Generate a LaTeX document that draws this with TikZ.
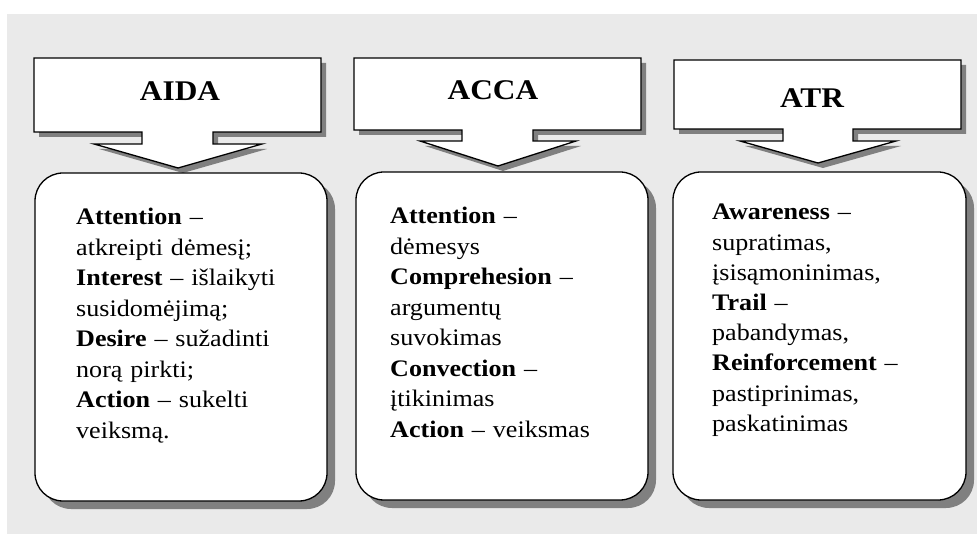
\documentclass[tikz,border=0pt]{standalone}
\usepackage{fontspec}
\setmainfont{Liberation Serif}[FakeStretch=1.1]
\usetikzlibrary{shadows}
\definecolor{panel}{RGB}{234,234,234}
\definecolor{shade}{RGB}{128,128,128}
\begin{document}
\begin{tikzpicture}[x=1pt,y=-1pt,
  shadowed/.style={drop shadow={shadow xshift=#1, shadow yshift=-#1, fill=shade, opacity=1}},
  header/.style={draw=black, fill=white, line width=1.3pt, line join=miter, shadowed=5pt},
  panelbox/.style={draw=black, fill=white, line width=1.3pt, rounded corners=28pt, shadowed=8pt, inner sep=0pt},
  title/.style={anchor=base, font=\bfseries\fontsize{28.5}{32}\selectfont, inner sep=0pt},
  body/.style={anchor=base west, text width=250pt, align=left, inner sep=0pt, font=\fontsize{23.7}{30.5}\selectfont}]
\useasboundingbox (0,0) rectangle (977,534);
\fill[white] (0,0) rectangle (977,534);
\fill[panel] (7,14) rectangle (977,534);

% header callouts pointing down
\draw[header] (34,58) -- (321,58) -- (321,132) -- (213,132) -- (213,144) -- (262,144)
  -- (178,168) -- (94,144) -- (142,144) -- (142,132) -- (34,132) -- cycle;
\draw[header] (354,58) -- (641,58) -- (641,130) -- (533,130) -- (533,141) -- (576,141)
  -- (498,166) -- (420,141) -- (462,141) -- (462,130) -- (354,130) -- cycle;
\draw[header] (674,60) -- (961,60) -- (961,129) -- (853,129) -- (853,141) -- (896,141)
  -- (818,163) -- (740,141) -- (783,141) -- (783,129) -- (674,129) -- cycle;

\node[title] (aida) at (180,101) {AIDA};
\node[title] (acca) at (493,100) {ACCA};
\node[title] (atr) at (812,108) {ATR};

% content boxes
\node[panelbox, minimum width=292pt, minimum height=328pt] (aidabox) at (181,337) {};
\node[panelbox, minimum width=292pt, minimum height=328pt] (accabox) at (502,336) {};
\node[panelbox, minimum width=293pt, minimum height=328pt] (atrbox) at (819.5,336) {};

\node[body] (aidatext) at (76,225) {\textbf{Attention} –\\
  atkreipti dėmesį;\\
  \textbf{Interest} – išlaikyti\\
  susidomėjimą;\\
  \textbf{Desire} – sužadinti\\
  norą pirkti;\\
  \textbf{Action} – sukelti\\
  veiksmą.};
\node[body] (accatext) at (390,224) {\textbf{Attention} –\\
  dėmesys\\
  \textbf{Comprehesion} –\\
  argumentų\\
  suvokimas\\
  \textbf{Convection} –\\
  įtikinimas\\
  \textbf{Action} – veiksmas};
\node[body, font=\fontsize{23.7}{30.2}\selectfont] (atrtext) at (712,220) {\textbf{Awareness} –\\
  supratimas,\\
  įsisąmoninimas,\\
  \textbf{Trail} –\\
  pabandymas,\\
  \textbf{Reinforcement} –\\
  pastiprinimas,\\
  paskatinimas};
\end{tikzpicture}
\end{document}
